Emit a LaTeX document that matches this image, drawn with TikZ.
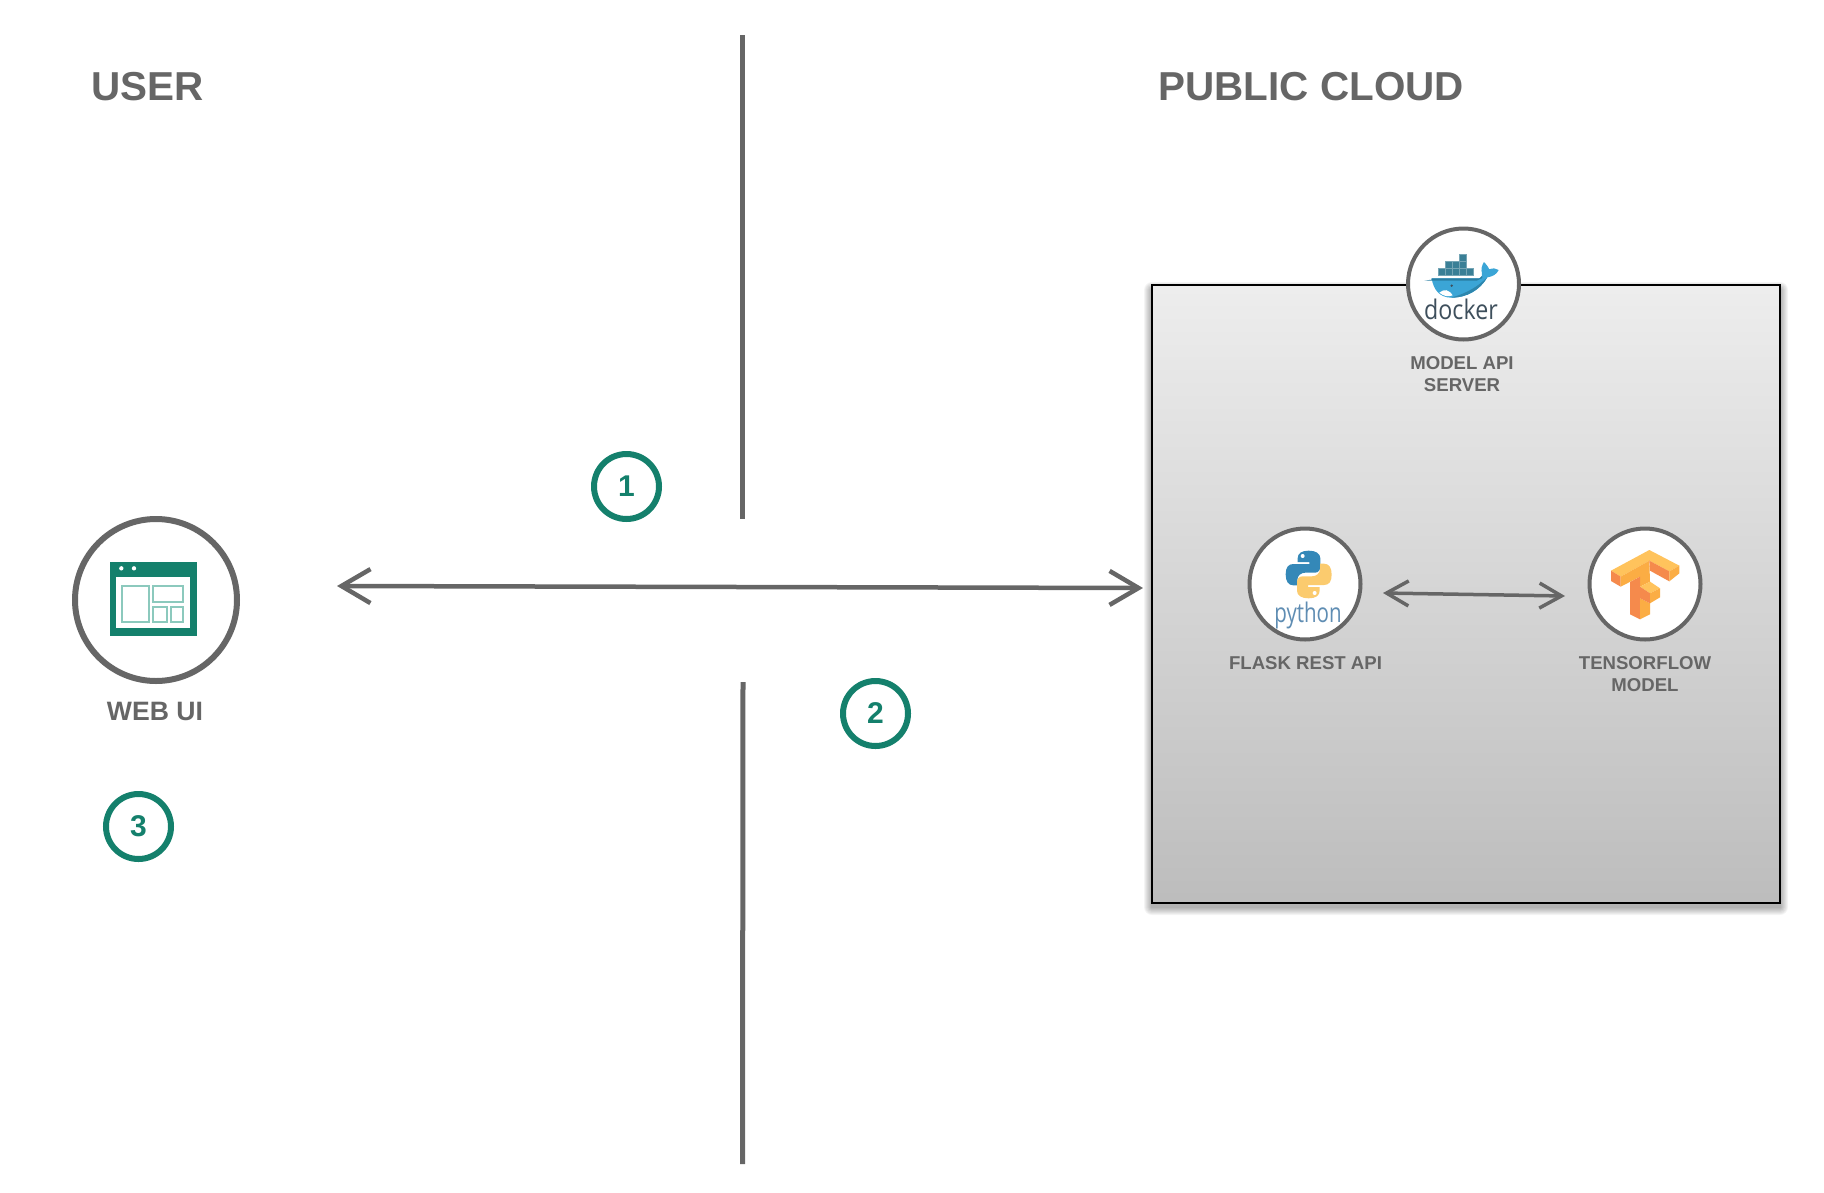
\documentclass[tikz,border=0pt]{standalone}
\usepackage{fontspec}
\setmainfont{Liberation Sans}
\newfontfamily\logofont{Open Sans}
\usetikzlibrary{arrows.meta}
\definecolor{ink}{HTML}{666666}
\definecolor{teal}{HTML}{14806C}
\definecolor{paneline}{HTML}{8CC9BD}
\definecolor{whaleblue}{HTML}{3BA5D6}
\definecolor{whaledark}{HTML}{2A7EA3}
\definecolor{crate}{HTML}{3A7F96}
\definecolor{dockertext}{HTML}{3E4F5C}
\definecolor{pyblue}{HTML}{3488B8}
\definecolor{pyyellow}{HTML}{FBCB6E}
\definecolor{pytext}{HTML}{5F8DB3}
\definecolor{tflight}{HTML}{FFC35C}
\definecolor{tfmid}{HTML}{FBAD44}
\definecolor{tfdark}{HTML}{F58A4C}
\tikzset{
  heading/.style={text=ink,font=\bfseries\fontsize{40.4}{44}\selectfont,anchor=west,inner sep=0pt},
  caption/.style={text=ink,font=\bfseries\fontsize{18.6}{22}\selectfont,align=center,inner sep=0pt},
  divider/.style={draw=ink,line width=5pt},
  service/.style={circle,draw=ink,fill=white,line width=4pt,minimum size=111pt,inner sep=0pt},
  webcircle/.style={circle,draw=ink,fill=white,line width=6pt,minimum size=162pt,inner sep=0pt},
  stepmark/.style={circle,draw=teal,fill=white,line width=6pt,minimum size=65pt,inner sep=0pt,text=teal,font=\bfseries\fontsize{30}{32}\selectfont},
  bigarrow/.style={draw=ink,line width=4.5pt,{Straight Barb[length=29pt,width=34pt,line width=4.5pt]}-{Straight Barb[length=29pt,width=34pt,line width=4.5pt]}},
  smallarrow/.style={draw=ink,line width=3.5pt,{Straight Barb[length=22pt,width=25pt,line width=3.5pt]}-{Straight Barb[length=22pt,width=25pt,line width=3.5pt]}},
  zoomed/.style={x=0.3333pt,y=-0.3333pt},
}
\begin{document}
\begin{tikzpicture}[x=1pt,y=-1pt]
\useasboundingbox (0,0) rectangle (1824,1192);
% dividers
\coordinate (d1a) at (742,35);
\coordinate (d1b) at (742,519);
\coordinate (d2a) at (743,682);
\coordinate (d2b) at (742.5,1164);
\draw[divider] (d1a) -- (d1b);
\draw[divider] (d2a) -- (d2b);
% headings
\node[heading] (user) at (91,87) {USER};
\node[heading] (cloud) at (1158.5,87) {PUBLIC CLOUD};
% soft shadow of the cloud box
\foreach \i in {1,...,8}
  \fill[black,opacity=.045,rounded corners=\i pt] (1152-\i,285+5-\i) rectangle (1780+\i,903+4+\i);
% cloud box
\node[draw=black,line width=2.5pt,top color=black!7,bottom color=black!26,minimum width=628pt,minimum height=618pt,inner sep=0pt] (box) at (1466,594) {};
% service circles
\node[service] (dock) at (1463.5,284) {};
\node[service] (py) at (1305,584) {};
\node[service] (tf) at (1645,584) {};
\node[webcircle] (web) at (156,600) {};
% captions
\node[caption] (capdock) at (1462,374) {MODEL API\\[0pt]SERVER};
\node[caption] (cappy) at (1305.5,663.5) {FLASK REST API};
\node[caption] (captf) at (1645,674.5) {TENSORFLOW\\[0pt]MODEL};
\node[caption,font=\bfseries\fontsize{26.6}{30}\selectfont] (capweb) at (155,711) {WEB UI};
% steps
\node[stepmark] (s1) at (626.5,486.5) {1};
\node[stepmark] (s2) at (875.5,713.5) {2};
\node[stepmark] (s3) at (138.5,826.5) {3};
% arrows
\coordinate (a1) at (337,586);
\coordinate (a2) at (1143,588);
\coordinate (b1) at (1383,593);
\coordinate (b2) at (1565,596);
\draw[bigarrow] (a1) -- (a2);
\draw[smallarrow] (b1) -- (b2);
% web icon
\begin{scope}[shift={(60,505)},zoomed]
\fill[teal] (150,172) rectangle (410,392);
\fill[white] (168,215) rectangle (390,368);
\fill[white] (184,190) circle[radius=6.5] (222,190) circle[radius=6.5];
\draw[paneline,line width=2pt] (185,243) rectangle (268,350);
\draw[paneline,line width=2pt] (280,243) rectangle (370,292);
\draw[paneline,line width=2pt] (280,305) rectangle (320,350);
\draw[paneline,line width=2pt] (333,305) rectangle (370,350);
\end{scope}
% docker logo
\begin{scope}[shift={(1380,210)},zoomed]
\foreach \cx/\cy in {175/175,196/175,217/175,238/175,259/175,196/154,217/154,238/154,238/133}
  \draw[fill=crate,draw=white!30!crate,line width=.4pt] (\cx,\cy) rectangle ++(21,21);
\fill[whaleblue] (155,205) -- (298,205) .. controls (304,205) and (308,198) .. (306,190)
  .. controls (302,178) and (306,165) .. (312,156) .. controls (320,165) and (326,172) .. (328,178)
  .. controls (338,174) and (348,174) .. (356,180) .. controls (350,194) and (336,200) .. (322,202)
  .. controls (300,240) and (260,264) .. (212,263) .. controls (178,262) and (160,238) .. (155,205) -- cycle;
\fill[whaledark] (133,212) -- (155,209) -- (155,205) -- (298,205) -- (306,198) -- (307,204) -- (290,212) -- (155,212) -- cycle;
\fill[whaledark!80!whaleblue] (322,202) .. controls (300,240) and (260,264) .. (212,263) .. controls (262,250) and (295,228) .. (322,202) -- cycle;
\fill[white] (178,248) .. controls (192,236) and (206,238) .. (218,256) .. controls (204,262) and (190,258) .. (178,248) -- cycle;
\fill[dockertext] (215,227) circle[radius=4];
\node[inner sep=0pt,text=dockertext,font=\logofont\fontsize{27}{30}\selectfont] (dockword) at (243,298) {\scalebox{.86}[1]{docker}};
\end{scope}
% python logo
\begin{scope}[shift={(1220,510)},zoomed]
\path[fill=pyblue] (266,122) .. controls (245,122) and (233,130) .. (233,145) -- (233,156) -- (268,156) -- (268,162) -- (220,162)
  .. controls (205,162) and (197,172) .. (197,193) .. controls (197,214) and (205,226) .. (220,226) -- (232,226) -- (232,210)
  .. controls (232,197) and (243,188) .. (256,188) -- (285,188) .. controls (295,188) and (301,180) .. (301,170) -- (301,145)
  .. controls (301,130) and (287,122) .. (266,122) -- cycle;
\path[fill=pyyellow,shift={(532,387)},x=-0.3333pt,y=0.3333pt] (266,122) .. controls (245,122) and (233,130) .. (233,145) -- (233,156) -- (268,156) -- (268,162) -- (220,162)
  .. controls (205,162) and (197,172) .. (197,193) .. controls (197,214) and (205,226) .. (220,226) -- (232,226) -- (232,210)
  .. controls (232,197) and (243,188) .. (256,188) -- (285,188) .. controls (295,188) and (301,180) .. (301,170) -- (301,145)
  .. controls (301,130) and (287,122) .. (266,122) -- cycle;
\fill[white] (248,138) circle[radius=6] (284,249) circle[radius=6];
\node[inner sep=0pt,text=pytext,font=\logofont\fontsize{27}{30}\selectfont] (pyword) at (264,317) {\scalebox{.76}[1]{python}};
\end{scope}
% tensorflow logo
\begin{scope}[shift={(1560,510)},zoomed]
\fill[tflight] (153,182) -- (268,120) -- (358,167) -- (328,184) -- (268,152) -- (182,200) -- cycle;
\fill[tfdark] (153,182) -- (182,200) -- (182,230) -- (153,213) -- cycle;
\fill[tfmid] (182,200) -- (268,152) -- (270,215) -- (240,230) -- (240,200) -- (182,230) -- cycle;
\fill[tfdark] (268,152) -- (328,184) -- (328,214) -- (270,182) -- cycle;
\fill[tfmid] (328,184) -- (358,167) -- (358,190) -- (328,214) -- cycle;
\fill[tfdark] (210,216) -- (240,200) -- (240,328) -- (210,313) -- cycle;
\fill[tfmid] (240,265) -- (270,280) -- (270,313) -- (240,328) -- cycle;
\fill[tflight] (240,230) -- (270,215) -- (300,235) -- (270,250) -- cycle;
\fill[tfdark] (240,230) -- (270,250) -- (270,280) -- (240,265) -- cycle;
\fill[tfmid] (270,250) -- (300,235) -- (300,262) -- (270,280) -- cycle;
\end{scope}
\end{tikzpicture}
\end{document}
